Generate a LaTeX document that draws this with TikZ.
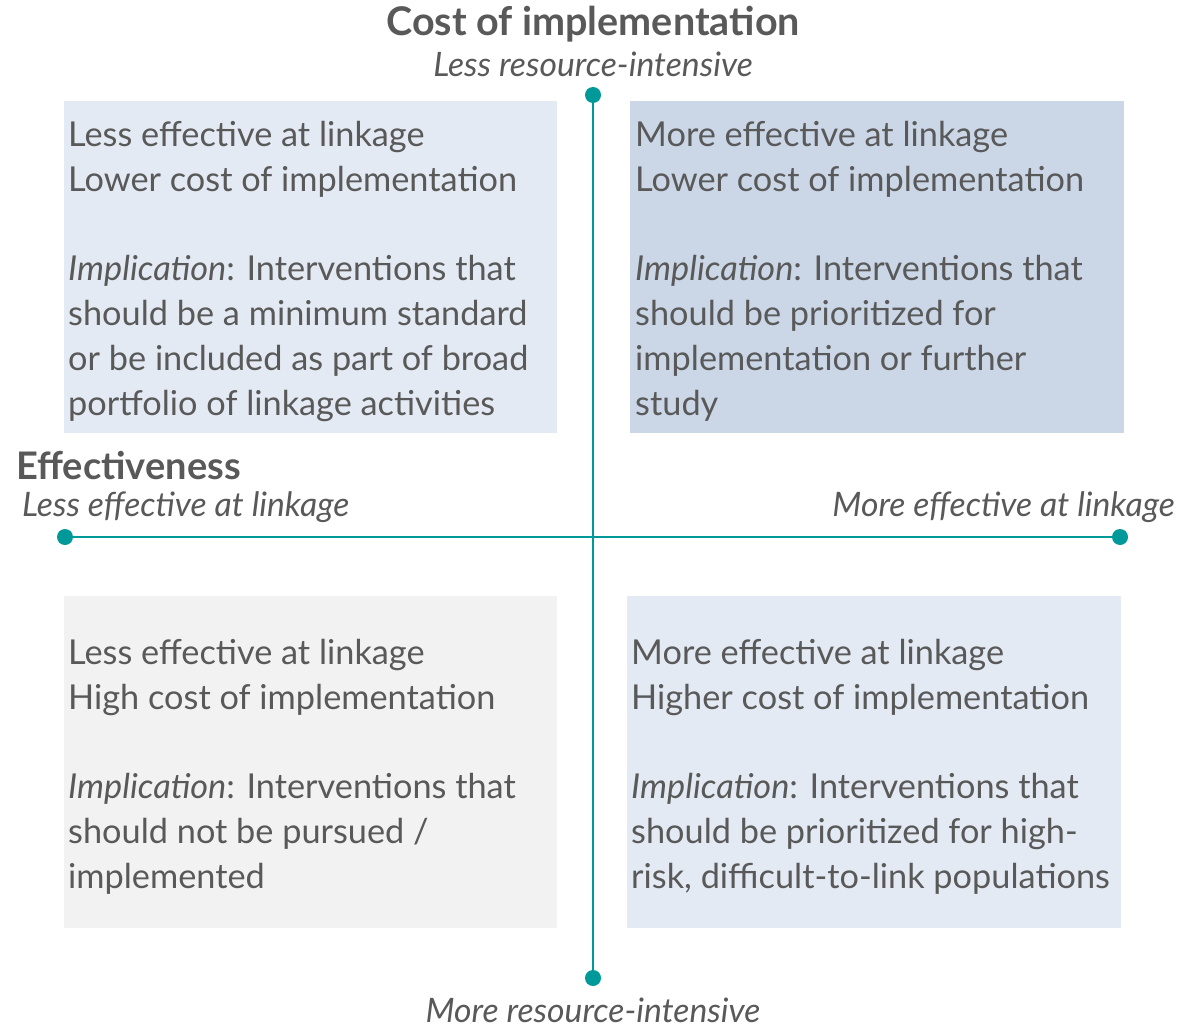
\documentclass[tikz,border=0pt]{standalone}
\usepackage{fontspec}
\setmainfont{Lato}
\definecolor{teal1}{RGB}{0,153,153}
\definecolor{txt}{RGB}{89,89,89}
\definecolor{boxA}{RGB}{228,234,243}
\definecolor{boxB}{RGB}{203,215,231}
\definecolor{boxC}{RGB}{242,242,242}
\begin{document}
\begin{tikzpicture}[x=1pt,y=-1pt,
  quad/.style={anchor=base west,align=left,text=txt,inner sep=0pt,font=\fontsize{34.3}{44.7}\selectfont},
  axlab/.style={text=txt,inner sep=0pt,font=\fontsize{33.7}{36}\selectfont\itshape},
  ttl/.style={text=txt,inner sep=0pt,font=\fontsize{39.5}{42}\selectfont\bfseries},
  axis/.style={draw=teal1,line width=2.8pt},
  dot/.style={circle,fill=teal1,inner sep=0pt,minimum size=16pt}]
\useasboundingbox (0,0) rectangle (1193,1027);
\fill[boxA] (64,101) rectangle (557,433);
\fill[boxB] (630,101) rectangle (1124,433);
\fill[boxC] (64,596) rectangle (557,928);
\fill[boxA] (627,596) rectangle (1121,928);
\node[dot] (top) at (593,95) {};
\node[dot] (bot) at (593,978) {};
\node[dot] (left) at (65,537) {};
\node[dot] (right) at (1120,537) {};
\draw[axis] (top) -- (bot);
\draw[axis] (left) -- (right);
\node[ttl,anchor=base] (t1) at (593,36) {Cost of implementation};
\node[axlab,anchor=base] (t2) at (593,77) {Less resource-intensive};
\node[axlab,anchor=base] (t3) at (593,1022) {More resource-intensive};
\node[ttl,anchor=base west,font=\fontsize{38}{40}\selectfont\bfseries] (e1) at (16,479) {Effectiveness};
\node[axlab,anchor=base west] (e2) at (22,516) {Less effective at linkage};
\node[axlab,anchor=base east] (e3) at (1175,516) {More effective at linkage};
\node[quad] (q1) at (68,415) {Less effective at linkage\\Lower cost of implementation\\[44.7pt]\textit{Implication}: Interventions that\\should be a minimum standard\\or be included as part of broad\\portfolio of linkage activities};
\node[quad] (q2) at (635,415) {More effective at linkage\\Lower cost of implementation\\[44.7pt]\textit{Implication}: Interventions that\\should be prioritized for\\implementation or further\\study};
\node[quad] (q3) at (68,888) {Less effective at linkage\\High cost of implementation\\[44.7pt]\textit{Implication}: Interventions that\\should not be pursued /\\implemented};
\node[quad] (q4) at (631,888) {More effective at linkage\\Higher cost of implementation\\[44.7pt]\textit{Implication}: Interventions that\\should be prioritized for high-\\risk, difficult-to-link populations};
\end{tikzpicture}
\end{document}
